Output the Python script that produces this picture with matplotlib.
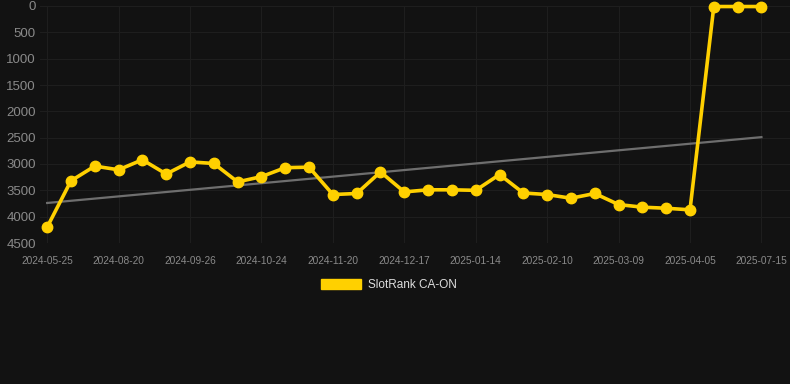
import numpy as np
import matplotlib.pyplot as plt

plt.rcParams['font.family'] = ['Liberation Sans', 'DejaVu Sans']

# rank per observation (lower = better), y axis is inverted
ranks = [4200, 3320, 3040, 3110, 2920, 3190, 2960, 2990, 3340, 3240,
         3070, 3060, 3580, 3560, 3150, 3530, 3490, 3490, 3500, 3200,
         3550, 3580, 3650, 3560, 3770, 3820, 3840, 3870, 10, 10, 10]
tick_labels = ['2024-05-25', '2024-08-20', '2024-09-26', '2024-10-24', '2024-11-20',
               '2024-12-17', '2025-01-14', '2025-02-10', '2025-03-09', '2025-04-05',
               '2025-07-15']
trend_start = 3740
trend_end = 2490

bg = '#121212'
fig = plt.figure(figsize=(7.9, 3.84), dpi=100, facecolor=bg)
ax = fig.add_axes([40 / 790, 1 - 243 / 384, 750 / 790, 237 / 384])
ax.set_facecolor(bg)

x = np.arange(len(ranks))
ax.plot([x[0], x[-1]], [trend_start, trend_end], color='#6e6e6e', lw=1.6, zorder=2)
ax.plot(x, ranks, color='#FFD000', lw=2.6, marker='o', markersize=7.5,
        clip_on=False, zorder=3)

ax.set_ylim(4500, 0)
ax.set_xlim(-0.3, 31.2)
ax.set_yticks(np.arange(0, 4501, 500))
ax.set_xticks(x[::3])
ax.set_xticklabels(tick_labels)

ax.grid(True, color='#1e1e1e', lw=0.8)
for s in ax.spines.values():
    s.set_visible(False)
ax.tick_params(axis='y', colors='#8a8a8a', labelsize=9.5, length=0, pad=3)
ax.tick_params(axis='x', colors='#8a8a8a', labelsize=7.3, length=0, pad=9)

# legend
fig.patches.append(plt.Rectangle((321 / 790, 1 - 289 / 384), 40 / 790, 10 / 384,
                                 transform=fig.transFigure, color='#FFD000'))
fig.text(368 / 790, 1 - 284.5 / 384, 'SlotRank CA-ON', color='#dddddd',
         fontsize=8.5, va='center', ha='left')

fig.savefig('out.png', dpi=100, facecolor=bg)
